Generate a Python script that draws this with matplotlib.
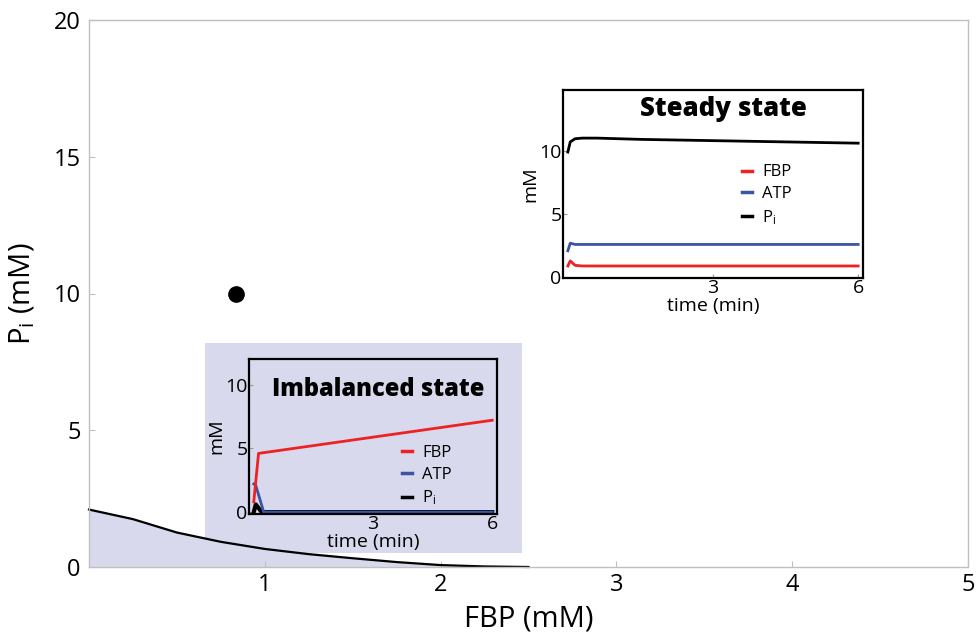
import matplotlib
matplotlib.use("Agg")
import matplotlib.pyplot as plt
from matplotlib.patches import Rectangle
from matplotlib.lines import Line2D

plt.rcParams['font.family'] = ['Open Sans', 'DejaVu Sans']
plt.rcParams['mathtext.fontset'] = 'custom'
plt.rcParams['mathtext.rm'] = 'Open Sans'
plt.rcParams['mathtext.it'] = 'Open Sans:italic'
plt.rcParams['mathtext.bf'] = 'Open Sans:bold'

# Boundary curve in the FBP / Pi plane
boundary_fbp = [0.0, 0.25, 0.5, 0.75, 1.0, 1.25, 1.5, 1.75, 2.0, 2.25, 2.5]
boundary_pi = [2.10, 1.75, 1.26, 0.92, 0.66, 0.47, 0.32, 0.18, 0.07, 0.02, 0.0]

# Initial condition marker
start_fbp = [0.835]
start_pi = [10.0]

# Imbalanced-state time courses (min, mM)
imb_t_fbp = [0.0, 0.12, 6.0]
imb_fbp = [0.8, 4.6, 7.2]
imb_t_atp = [0.0, 0.05, 0.25, 6.0]
imb_atp = [2.2, 2.1, 0.0, 0.0]
imb_t_pi = [0.0, 0.05, 0.2, 6.0]
imb_pi = [0.0, 0.6, 0.0, 0.0]

# Steady-state time courses (min, mM)
ss_t = [0.0, 0.05, 0.15, 0.3, 0.6, 1.5, 3.0, 4.5, 6.0]
ss_fbp = [0.9, 1.3, 0.95, 0.9, 0.9, 0.9, 0.9, 0.9, 0.9]
ss_atp = [2.1, 2.7, 2.6, 2.6, 2.6, 2.6, 2.6, 2.6, 2.6]
ss_pi = [9.9, 10.7, 10.95, 11.0, 11.0, 10.9, 10.8, 10.7, 10.6]

main_xticks = [1, 2, 3, 4, 5]
main_yticks = [0, 5, 10, 15, 20]
inset_xticks = [3, 6]
inset_yticks = [0, 5, 10]
legend_labels = ['FBP', 'ATP', 'P$_\\mathregular{i}$']

W, H = 979, 640
fig = plt.figure(figsize=(W / 100, H / 100), dpi=100)

LAV = '#d8d9ec'
GRAY = '#c0c0c0'
RED = '#ee2124'
BLUE = '#3a55a4'


def fig_rect(x0, y0, x1, y1):
    """Pixel box (top-left origin) to figure-fraction [l, b, w, h]."""
    return [x0 / W, 1 - y1 / H, (x1 - x0) / W, (y1 - y0) / H]


# Main axes
ax = fig.add_axes(fig_rect(89, 20, 968, 567))
ax.set_xlim(0, 5)
ax.set_ylim(0, 20)
for s in ax.spines.values():
    s.set_color(GRAY)
    s.set_linewidth(1.0)
ax.set_xticks(main_xticks)
ax.set_yticks(main_yticks)
ax.tick_params(direction='in', length=4, color=GRAY, labelsize=17)
ax.tick_params(axis='x', pad=4)
ax.tick_params(axis='y', pad=6)
ax.set_xlabel('FBP (mM)', fontsize=21, labelpad=6)
ax.set_ylabel('P$_\\mathregular{i}$ (mM)', fontsize=21, labelpad=12)

ax.fill_between(boundary_fbp, boundary_pi, 0, color=LAV, lw=0, zorder=1)
bg = Rectangle((205 / W, 1 - 553 / H), (522 - 205) / W, (553 - 343) / H,
               transform=fig.transFigure, facecolor=LAV, edgecolor='none',
               zorder=1.5, clip_on=False)
ax.add_patch(bg)
ax.plot(boundary_fbp, boundary_pi, color='black', lw=1.6, zorder=2, clip_on=False)
ax.plot(start_fbp, start_pi, 'o', color='black', ms=11, zorder=3)


def style_inset(iax, xlim, ylim, title, title_xy, title_size):
    iax.set_xlim(*xlim)
    iax.set_ylim(*ylim)
    for s in iax.spines.values():
        s.set_color('black')
        s.set_linewidth(1.6)
    iax.set_xticks(inset_xticks)
    iax.set_yticks(inset_yticks)
    iax.tick_params(direction='in', length=3, color='#999999', width=0.8,
                    labelsize=14, pad=1)
    iax.set_xlabel('time (min)', fontsize=14, labelpad=0)
    iax.set_ylabel('mM', fontsize=14, labelpad=0)
    iax.text(title_xy[0], title_xy[1], title, transform=iax.transAxes,
             fontsize=title_size, fontweight='heavy', ha='center', va='center')
    return [Line2D([], [], color=RED, lw=2.5),
            Line2D([], [], color=BLUE, lw=2.5),
            Line2D([], [], color='black', lw=2.5)]


# Imbalanced-state inset
ax1 = fig.add_axes(fig_rect(249, 359, 497, 514))
ax1.patch.set_alpha(0)
h = style_inset(ax1, (-0.12, 6.12), (-0.15, 12.0), 'Imbalanced state',
                (0.52, 0.80), 17)
ax1.plot(imb_t_pi, imb_pi, color='black', lw=3, clip_on=False)
ax1.plot(imb_t_atp, imb_atp, color=BLUE, lw=2)
ax1.plot(imb_t_fbp, imb_fbp, color=RED, lw=2)
ax1.legend(h, legend_labels, frameon=False, fontsize=12,
           handlelength=0.6, handletextpad=0.6, labelspacing=0.35,
           loc='upper left', bbox_to_anchor=(0.59, 0.49), borderaxespad=0)

# Steady-state inset
ax2 = fig.add_axes(fig_rect(563, 90, 863, 278))
ax2.set_facecolor('white')
h = style_inset(ax2, (-0.1, 6.1), (-0.05, 14.8), 'Steady state',
                (0.535, 0.9), 18.5)
ax2.plot(ss_t, ss_fbp, color=RED, lw=2)
ax2.plot(ss_t, ss_atp, color=BLUE, lw=2)
ax2.plot(ss_t, ss_pi, color='black', lw=2)
ax2.legend(h, legend_labels, frameon=False, fontsize=12,
           handlelength=0.6, handletextpad=0.6, labelspacing=0.35,
           loc='upper left', bbox_to_anchor=(0.575, 0.64), borderaxespad=0)

fig.savefig('out.png', dpi=100)
